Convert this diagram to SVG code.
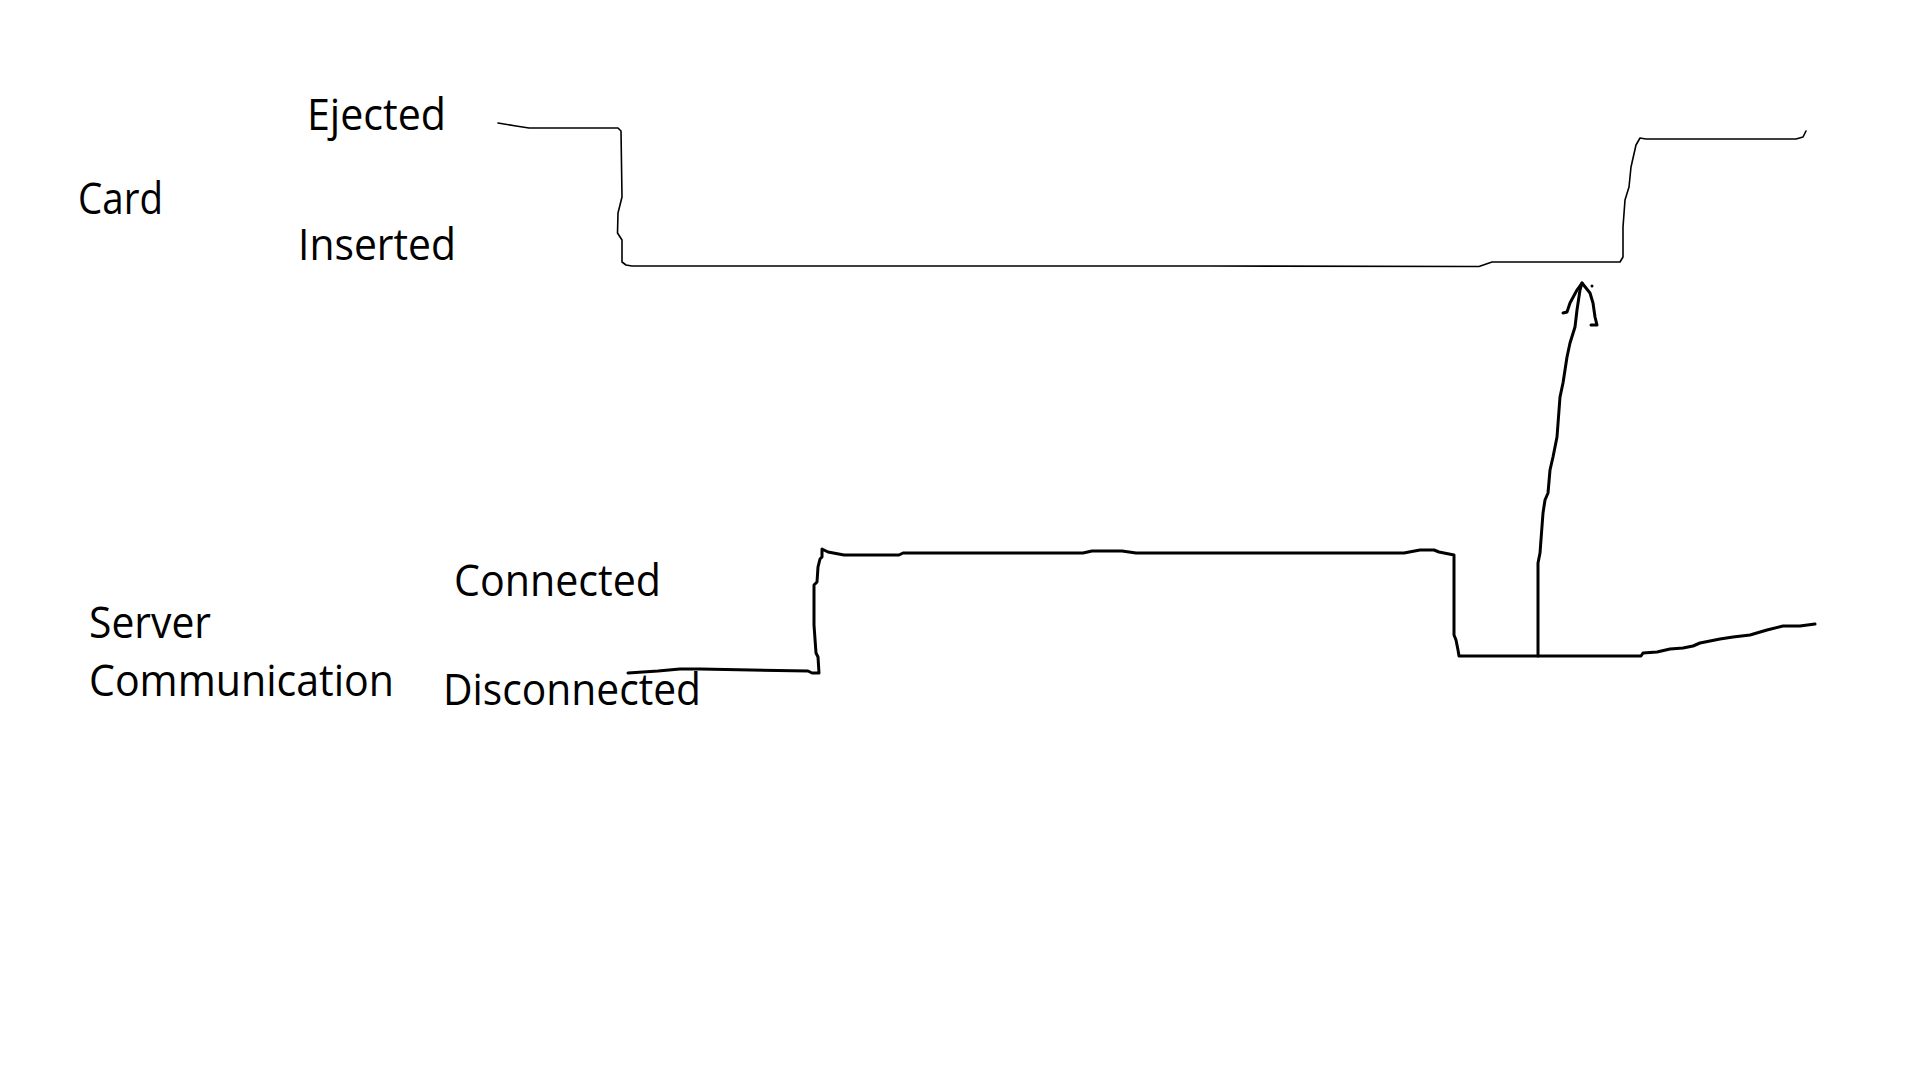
<svg xmlns="http://www.w3.org/2000/svg" width="1920" height="1080" viewBox="0 0 1920 1080">
<style>
text{font-family:"Open Sans","Liberation Sans",sans-serif;font-size:43px;fill:#000}
.thin{fill:none;stroke:#000;stroke-width:1.6;stroke-linejoin:round;stroke-linecap:round}
.thick{fill:none;stroke:#000;stroke-width:3;stroke-linejoin:round;stroke-linecap:round}
</style>
<rect width="1920" height="1080" fill="#fff"/>
<g id="labels">
<text x="307" y="130" textLength="139" lengthAdjust="spacingAndGlyphs">Ejected</text>
<text x="78" y="214" textLength="85" lengthAdjust="spacingAndGlyphs">Card</text>
<text x="298" y="260" textLength="158" lengthAdjust="spacingAndGlyphs">Inserted</text>
<text x="454" y="596" textLength="207" lengthAdjust="spacingAndGlyphs">Connected</text>
<text x="89" y="638" textLength="122" lengthAdjust="spacingAndGlyphs">Server</text>
<text x="89" y="696" textLength="305" lengthAdjust="spacingAndGlyphs">Communication</text>
<text x="443" y="705" textLength="258" lengthAdjust="spacingAndGlyphs">Disconnected</text>
</g>
<g id="connectors">
<path id="card-signal" class="thin" d="M498,123 L516,126 L529,128 L618,128 L621,131 L622,197 L618,213 L617.5,233 L622,240 L622,262 L626,265 L632,266 L1210,266 L1479,266.5 L1492,262 L1620,262 L1623,257 L1623,227 L1625,200 L1629,187 L1631,167 L1636,145 L1640,138 L1646,139 L1796,139 L1803,137 L1806,131"/>
<path id="server-signal" class="thick" d="M628,673 L658,671 L680,669 L700,669 L808,671 L812,673 L819,673 L818,657 L816,653 L814,625 L814,585 L817,582 L818,567 L820,559 L822,557 L822,549 L828,552 L844,555 L899,555 L903,553 L1069,553 L1083,553 L1092,551 L1122,551 L1136,553 L1404,553 L1420,550 L1434,550 L1439,552 L1454,555 L1454,635 L1456,640 L1458,650 L1459,656 L1641,656 L1643,653 L1657,652 L1670,649 L1683,648 L1693,646 L1700,643 L1720,639 L1733,637 L1750,635 L1767,630 L1783,626 L1800,626 L1815,624"/>
<path id="arrow-shaft" class="thick" d="M1538,656 L1538,563 L1540,553 L1543,513 L1545,500 L1548,493 L1550,470 L1553,457 L1557,437 L1560,397 L1563,383 L1567,357 L1570,343 L1575,327 L1577,310 L1580,290 L1582,283"/>
<path id="arrow-head" class="thick" d="M1563,313 L1567,312 L1570,303 L1577,290 L1582,283 L1590,293 L1593,303 L1595,317 L1597,325 L1591,325"/>
<circle cx="1592" cy="286" r="1.5" fill="#000"/>
</g>
</svg>
